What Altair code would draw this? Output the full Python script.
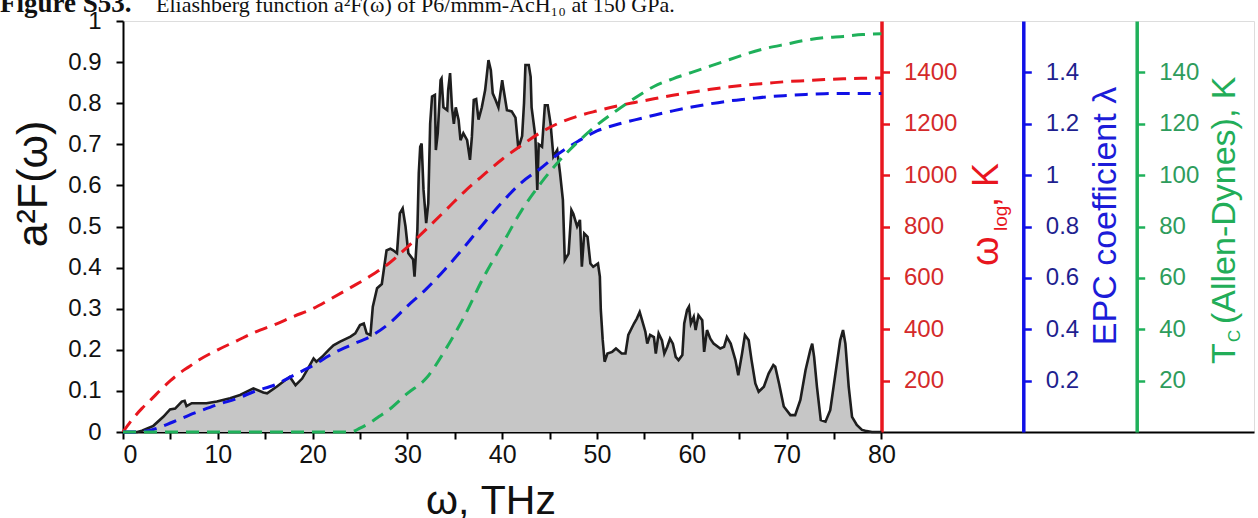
import altair as alt
import pandas as pd

# ---------------- data ----------------
freq_thz = [0, 1.5, 2.0, 2.5, 3.2, 4.25, 4.96, 5.5, 6.2, 6.5, 6.7, 7.25, 8.8, 9.9, 11.3, 12.35,
            13.75, 14.8, 15.2, 16.2, 17.1, 17.6, 18.2, 18.9, 19.4, 20.1, 20.4, 21.0, 21.7, 22.2,
            22.9, 24.0, 24.5, 25.0, 25.4, 25.7, 26.1, 26.35, 26.8, 27.3, 27.5, 27.8, 28.2, 28.5,
            28.9, 29.2, 29.5, 29.8, 30.1, 30.6, 30.75, 31.05, 31.2, 31.35, 31.5, 31.7, 31.98, 32.2,
            32.4, 32.6, 32.9, 33.0, 33.2, 33.5, 33.6, 33.8, 34.2, 34.3, 34.5, 34.7, 34.9, 35.1,
            35.4, 35.6, 35.9, 36.3, 36.6, 36.8, 37.0, 37.25, 37.5, 37.85, 38.2, 38.55, 38.8, 39.0,
            39.3, 39.6, 40.0, 40.1, 40.5, 41.0, 41.4, 41.7, 42.1, 42.3, 42.45, 42.8, 43.0, 43.1,
            43.5, 43.7, 43.85, 44.2, 44.5, 44.8, 45.1, 45.4, 45.8, 46.1, 46.4, 46.6, 47.0, 47.3,
            47.5, 47.9, 48.2, 48.4, 48.65, 49.0, 49.3, 49.6, 50.1, 50.3, 50.4, 50.6, 50.8, 51.1,
            51.6, 52.0, 52.6, 53.0, 53.3, 53.9, 54.2, 54.5, 54.75, 55.1, 55.3, 55.6, 56.0, 56.2,
            56.5, 56.85, 57.1, 57.4, 57.7, 58.0, 58.3, 58.6, 59.0, 59.2, 59.5, 59.7, 59.9, 60.2,
            60.4, 60.7, 61.1, 61.3, 61.6, 61.95, 62.3, 63.0, 63.4, 63.7, 64.1, 64.6, 64.9, 65.3,
            65.6, 66.0, 66.3, 66.7, 67.05, 67.6, 68.1, 68.6, 68.8, 69.2, 69.7, 70.4, 70.9, 71.45,
            72.0, 72.5, 72.7, 72.9, 73.2, 73.6, 74.1, 74.6, 75.1, 75.65, 75.95, 76.2, 76.55, 76.9,
            77.4, 77.95, 78.3, 79.0, 80.0]
a2f_vals = [0, 0, 0.003, 0.008, 0.015, 0.037, 0.055, 0.057, 0.074, 0.076, 0.063, 0.07, 0.07, 0.074,
            0.082, 0.09, 0.106, 0.096, 0.094, 0.11, 0.126, 0.134, 0.114, 0.13, 0.15, 0.179, 0.171,
            0.183, 0.2, 0.211, 0.22, 0.232, 0.24, 0.26, 0.264, 0.24, 0.236, 0.305, 0.35, 0.36,
            0.393, 0.442, 0.446, 0.442, 0.435, 0.532, 0.544, 0.5, 0.435, 0.42, 0.378, 0.491, 0.63,
            0.694, 0.702, 0.589, 0.508, 0.556, 0.75, 0.816, 0.82, 0.686, 0.727, 0.856, 0.86, 0.79,
            0.783, 0.832, 0.873, 0.79, 0.75, 0.79, 0.759, 0.71, 0.727, 0.71, 0.662, 0.718, 0.808,
            0.81, 0.76, 0.79, 0.832, 0.905, 0.88, 0.824, 0.808, 0.79, 0.856, 0.84, 0.783, 0.78,
            0.765, 0.69, 0.72, 0.8, 0.893, 0.893, 0.864, 0.79, 0.718, 0.589, 0.7, 0.694, 0.795,
            0.795, 0.75, 0.67, 0.686, 0.63, 0.565, 0.418, 0.434, 0.54, 0.531, 0.5, 0.516, 0.402,
            0.483, 0.475, 0.41, 0.402, 0.41, 0.378, 0.297, 0.224, 0.171, 0.191, 0.195, 0.203,
            0.191, 0.191, 0.236, 0.264, 0.276, 0.292, 0.272, 0.244, 0.215, 0.236, 0.231, 0.191,
            0.24, 0.223, 0.191, 0.207, 0.227, 0.215, 0.183, 0.175, 0.187, 0.264, 0.297, 0.305,
            0.264, 0.28, 0.248, 0.284, 0.272, 0.195, 0.248, 0.227, 0.215, 0.203, 0.207, 0.231,
            0.215, 0.175, 0.138, 0.191, 0.236, 0.223, 0.175, 0.118, 0.098, 0.11, 0.142, 0.163,
            0.159, 0.118, 0.062, 0.041, 0.041, 0.078, 0.151, 0.2, 0.215, 0.183, 0.11, 0.029, 0.025,
            0.053, 0.134, 0.223, 0.248, 0.215, 0.11, 0.037, 0.017, 0.005, 0.003, 0, 0]

curve_thz = [0, 1, 2, 3, 4, 5, 6, 7, 8, 10, 12, 14, 16, 18, 20, 22, 24, 26, 28, 30, 32, 34, 36, 38,
             40, 42, 44, 46, 48, 50, 52, 54, 56, 58, 60, 62, 64, 66, 68, 70, 72, 74, 76, 78, 80]
omega_log_k = [0, 50, 92, 128, 165, 200, 230, 255, 280, 320, 355, 390, 418, 450, 480, 520, 562, 605,
               655, 720, 790, 862, 935, 1000, 1062, 1115, 1165, 1203, 1230, 1250, 1268, 1283, 1297,
               1311, 1323, 1334, 1344, 1352, 1358, 1364, 1368, 1372, 1375, 1377, 1378]
lambda_epc = [0, 0, 0.002, 0.008, 0.02, 0.035, 0.05, 0.066, 0.08, 0.107, 0.13, 0.16, 0.183, 0.221,
              0.258, 0.303, 0.338, 0.37, 0.42, 0.49, 0.557, 0.635, 0.72, 0.81, 0.895, 0.97, 1.025,
              1.085, 1.132, 1.172, 1.196, 1.215, 1.233, 1.25, 1.265, 1.278, 1.289, 1.297, 1.305,
              1.31, 1.314, 1.317, 1.318, 1.318, 1.318]
tc_thz = [0, 5, 10, 15, 20, 24, 25, 26, 27, 28, 30, 32, 34, 36, 38, 40, 42, 44, 46, 48, 50, 52, 54,
          56, 58, 60, 62, 64, 66, 68, 70, 72, 74, 76, 78, 80]
tc_k = [0, 0, 0, 0, 0, 0, 1.5, 3.5, 6, 8.5, 15, 21, 32, 45, 60, 73, 86, 96.5, 105.5, 113, 119.5,
        125, 130, 134.5, 137.5, 140, 142.5, 145, 147.5, 149.5, 151, 152.5, 153.5, 154, 154.7, 155]

x_ticks = [0, 5, 10, 15, 20, 25, 30, 35, 40, 45, 50, 55, 60, 65, 70, 75, 80]
left_ticks = [0, 0.1, 0.2, 0.3, 0.4, 0.5, 0.6, 0.7, 0.8, 0.9, 1]
red_ticks = [200, 400, 600, 800, 1000, 1200, 1400]
blue_ticks = [0.2, 0.4, 0.6, 0.8, 1, 1.2, 1.4]
green_ticks = [20, 40, 60, 80, 100, 120, 140]

# ---------------- styling ----------------
W, H = 1131, 411
X_MAX = 119.3
FONT = "Liberation Sans"
RED, RED_T = "#e8161e", "#d42a2a"
BLUE, BLUE_T, BLUE_TITLE = "#1010e6", "#1f1f8f", "#1c1cd8"
GREEN, GREEN_T, GREEN_TITLE = "#1fb05a", "#2e9c5c", "#22ad58"

x_axis = alt.Axis(values=x_ticks, labelExpr="datum.value % 10 === 0 ? datum.label : ''",
                  tickSize=7, tickWidth=2, domainWidth=2, domainColor="black", tickColor="black",
                  labelFontSize=25, labelColor="#111111", labelPadding=3, title="", grid=False)


def xenc():
    return alt.X("f:Q", scale=alt.Scale(domain=[0, X_MAX], nice=False, zero=False), axis=x_axis)


left_axis = alt.Axis(values=left_ticks, format=".1~f", tickSize=7, tickWidth=2, domainWidth=2,
                     domainColor="black", tickColor="black", labelFontSize=24,
                     labelColor="#111111", labelPadding=15, title="", grid=False)

df_a = pd.DataFrame({"f": freq_thz, "v": a2f_vals})
yl = alt.Y("v:Q", scale=alt.Scale(domain=[0, 1], nice=False, zero=False), axis=left_axis)
area = alt.Chart(df_a).mark_area(color="#c6c6c6", opacity=1).encode(x=xenc(), y=yl)
line = alt.Chart(df_a).mark_line(color="#1e1e1e", strokeWidth=2.6).encode(x=xenc(), y=yl)
main = alt.layer(area, line)


def right_curve(xs, vals, dom, ticks, fmt, offset, color, tcolor):
    df = pd.DataFrame({"f": xs, "v": vals})
    ax = alt.Axis(orient="right", offset=offset, values=ticks, format=fmt, tickSize=8, tickWidth=2.5,
                  domainWidth=3.5, domainColor=color, tickColor=color, labelColor=tcolor,
                  labelFontSize=24, labelPadding=14, title="", grid=False)
    return alt.Chart(df).mark_line(color=color, strokeDash=[13, 8], strokeWidth=3,
                                   interpolate="monotone").encode(
        x=xenc(),
        y=alt.Y("v:Q", scale=alt.Scale(domain=dom, nice=False, zero=False), axis=ax))


red = right_curve(curve_thz, omega_log_k, [0, 1600], red_ticks, "d", -372.5, RED, RED_T)
blue = right_curve(curve_thz, lambda_epc, [0, 1.6], blue_ticks, ".1~f", -230.7, BLUE, BLUE_T)
green = right_curve(tc_thz, tc_k, [0, 160], green_ticks, "d", -117.3, GREEN, GREEN_T)


def label(text, x, y, size, color="#111111", angle=0, align="center", baseline="alphabetic",
          font=FONT, weight="normal"):
    return alt.Chart(pd.DataFrame({"t": [text]})).mark_text(
        fontSize=size, color=color, angle=angle, align=align, baseline=baseline, font=font,
        fontWeight=weight).encode(text="t:N", x=alt.value(x), y=alt.value(y))


OX, OY = 123, 21  # plot origin in page pixels
texts = [
    label("ω, THz", 491 - OX, 514 - OY, 41),
    label("a²F(ω)", 47 - OX, 184 - OY, 43, angle=270, align="center"),
    # omega_log, K
    label("ω", 998 - OX, 266 - OY, 38, color=RED, angle=270, align="left"),
    label("log", 1007 - OX, 231 - OY, 19, color=RED, angle=270, align="left"),
    label(", K", 998 - OX, 207 - OY, 36, color=RED, angle=270, align="left"),
    # EPC
    label("EPC coefficient λ", 1116 - OX, 216 - OY, 34, color=BLUE_TITLE, angle=270, align="center"),
    # Tc
    label("T", 1235 - OX, 364 - OY, 34, color=GREEN_TITLE, angle=270, align="left"),
    label("C", 1240 - OX, 342 - OY, 17, color=GREEN_TITLE, angle=270, align="left"),
    label("(Allen-Dynes), K", 1235 - OX, 324 - OY, 34, color=GREEN_TITLE, angle=270, align="left"),
    # caption line cut by the top edge
    label("Figure S53.", 0 - OX, 12 - OY, 27, align="left", font="Liberation Serif", weight="bold"),
    label("Eliashberg function a²F(ω) of P6/mmm-AcH₁₀ at 150 GPa.", 156 - OX, 12 - OY, 22,
          align="left", font="Liberation Serif"),
]

chart = alt.layer(main, red, blue, green, *texts).resolve_scale(y="independent").properties(
    width=W, height=H, autosize="none",
    padding={"left": OX, "top": OY, "right": 1258 - OX - W, "bottom": 518 - OY - H},
).configure_view(stroke="black", strokeWidth=2).configure_axis(
    labelFont=FONT, grid=False
).configure(background="white")

chart.save("out.html", embed_options={"renderer": "svg", "actions": False})
